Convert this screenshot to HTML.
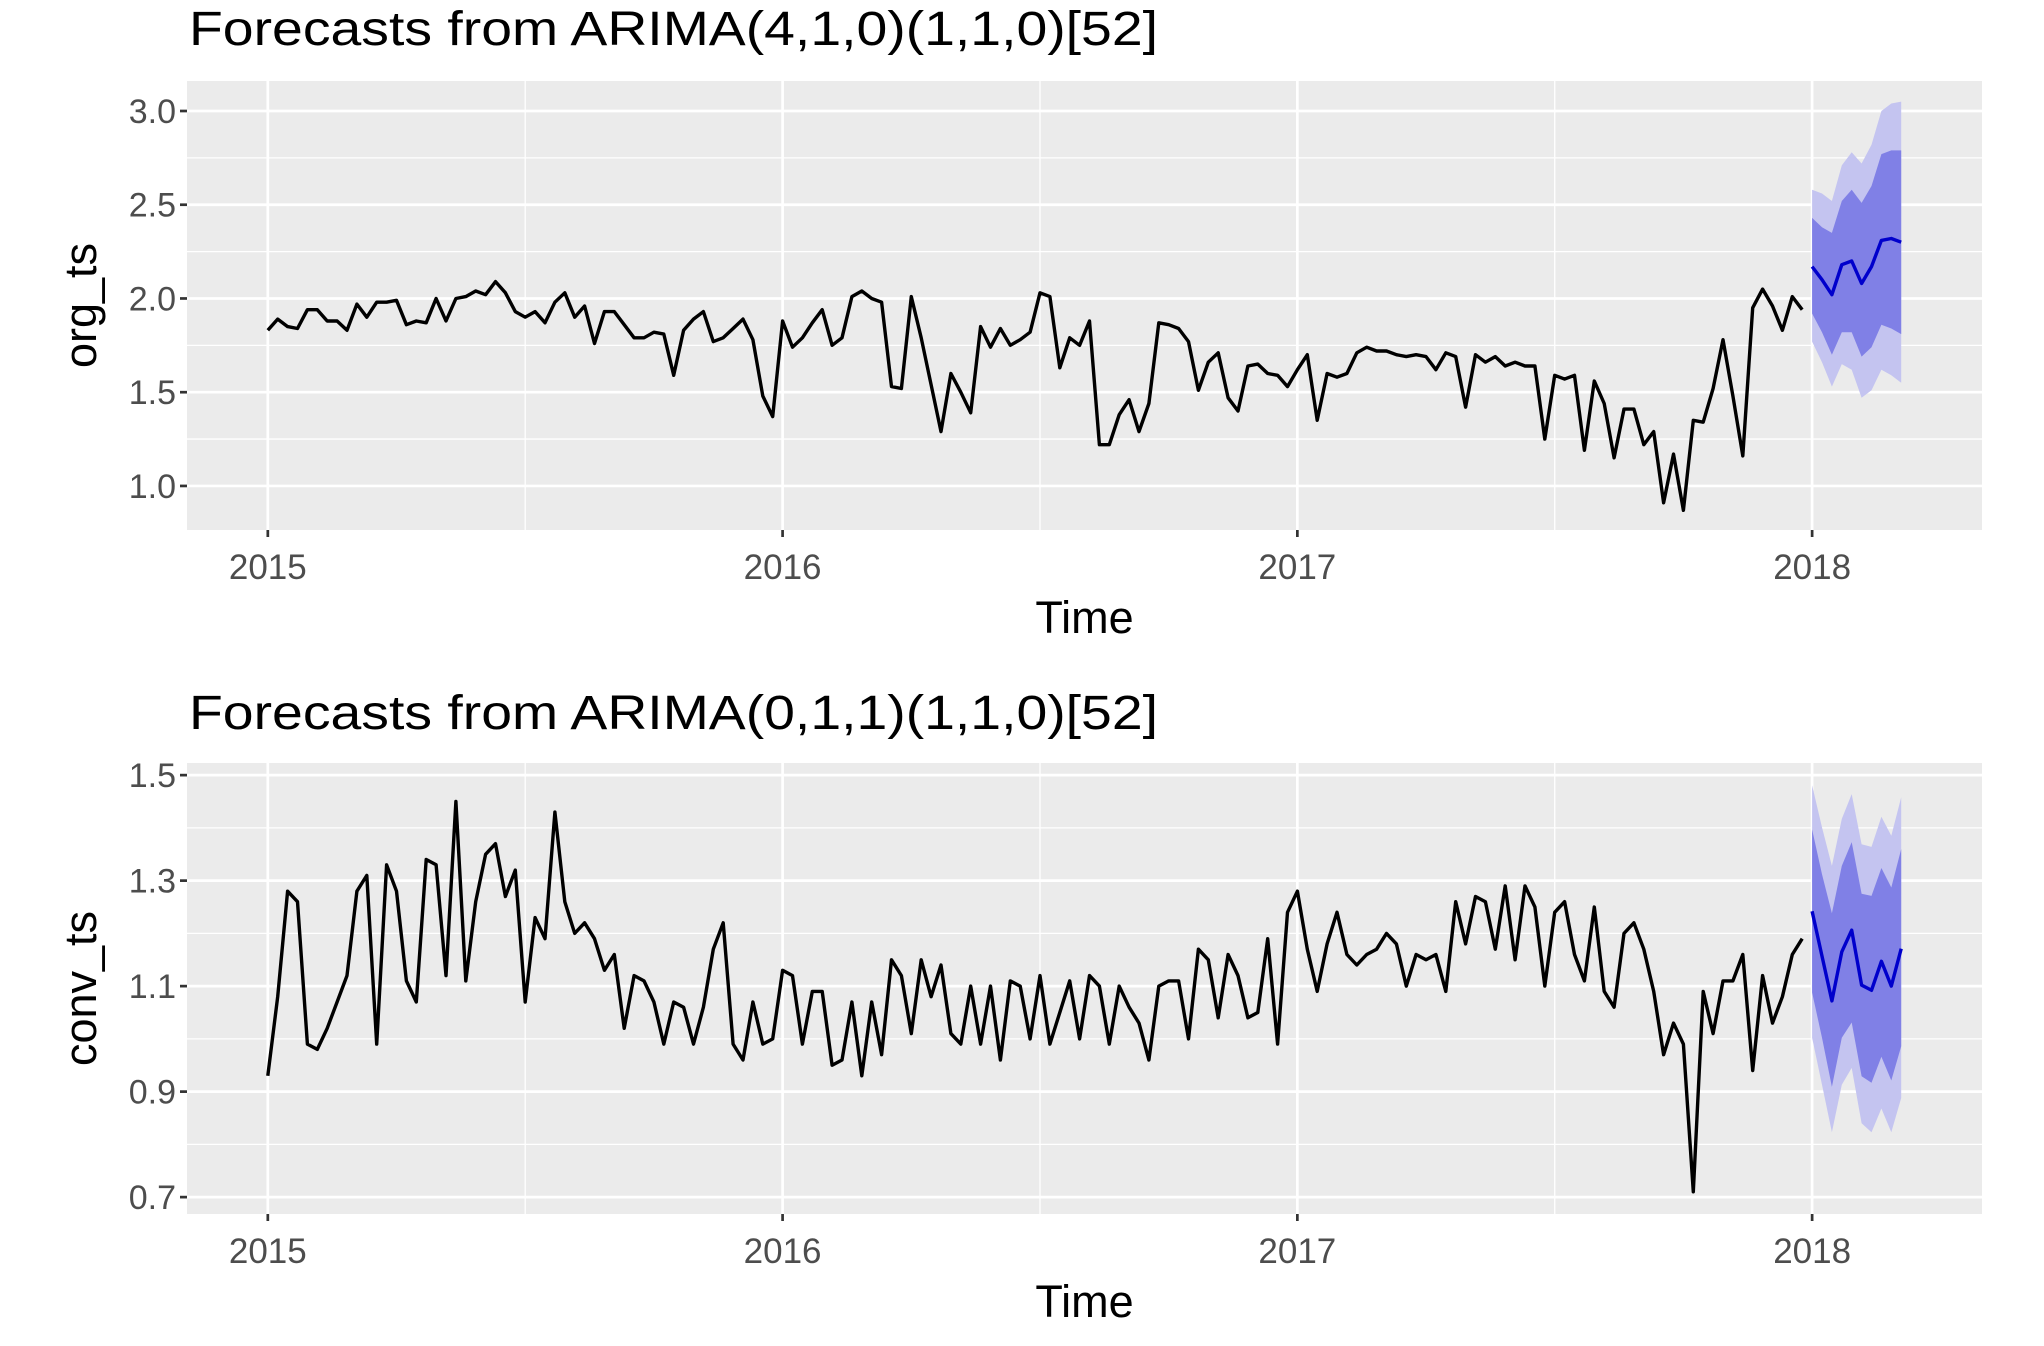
<!DOCTYPE html>
<html><head><meta charset="utf-8"><style>
html,body{margin:0;padding:0;background:#fff;}
svg{display:block;font-family:"Liberation Sans",Arial,sans-serif;}
</style></head><body>
<svg id="chart" width="2044" height="1346" viewBox="0 0 2044 1346" xmlns="http://www.w3.org/2000/svg"></svg>
<script>
// ---- Data: weekly series starting 2015 (52 per year) ----
const orgValues = [
1.83,1.89,1.85,1.84,1.94,1.94,1.88,1.88,1.83,1.97,1.90,1.98,1.98,1.99,1.86,1.88,1.87,2.00,1.88,2.00,2.01,2.04,2.02,2.09,2.03,1.93,1.90,1.93,1.87,1.98,2.03,1.90,1.96,1.76,1.93,1.93,1.86,1.79,1.79,1.82,1.81,1.59,1.83,1.89,1.93,1.77,1.79,1.84,1.89,1.78,1.48,1.37,
1.88,1.74,1.79,1.87,1.94,1.75,1.79,2.01,2.04,2.00,1.98,1.53,1.52,2.01,1.79,1.54,1.29,1.60,1.50,1.39,1.85,1.74,1.84,1.75,1.78,1.82,2.03,2.01,1.63,1.79,1.75,1.88,1.22,1.22,1.38,1.46,1.29,1.44,1.87,1.86,1.84,1.77,1.51,1.66,1.71,1.47,1.40,1.64,1.65,1.60,1.59,1.53,
1.62,1.70,1.35,1.60,1.58,1.60,1.71,1.74,1.72,1.72,1.70,1.69,1.70,1.69,1.62,1.71,1.69,1.42,1.70,1.66,1.69,1.64,1.66,1.64,1.64,1.25,1.59,1.57,1.59,1.19,1.56,1.44,1.15,1.41,1.41,1.22,1.29,0.91,1.17,0.87,1.35,1.34,1.52,1.78,1.48,1.16,1.95,2.05,1.96,1.83,2.01,1.94];
const orgMean = [2.17,2.10,2.02,2.18,2.20,2.08,2.17,2.31,2.32,2.30];
const orgHi80 = [2.43,2.38,2.35,2.52,2.58,2.51,2.60,2.77,2.79,2.79];
const orgLo80 = [1.92,1.82,1.70,1.82,1.82,1.69,1.74,1.86,1.84,1.81];
const orgHi95 = [2.58,2.56,2.52,2.71,2.78,2.72,2.82,3.00,3.04,3.05];
const orgLo95 = [1.77,1.66,1.53,1.65,1.62,1.47,1.51,1.62,1.59,1.55];
const orgTicks = [1.0,1.5,2.0,2.5,3.0];
const orgTickLabels = ["1.0","1.5","2.0","2.5","3.0"];

const convValues = [
0.93,1.08,1.28,1.26,0.99,0.98,1.02,1.07,1.12,1.28,1.31,0.99,1.33,1.28,1.11,1.07,1.34,1.33,1.12,1.45,1.11,1.26,1.35,1.37,1.27,1.32,1.07,1.23,1.19,1.43,1.26,1.20,1.22,1.19,1.13,1.16,1.02,1.12,1.11,1.07,0.99,1.07,1.06,0.99,1.06,1.17,1.22,0.99,0.96,1.07,0.99,1.00,
1.13,1.12,0.99,1.09,1.09,0.95,0.96,1.07,0.93,1.07,0.97,1.15,1.12,1.01,1.15,1.08,1.14,1.01,0.99,1.10,0.99,1.10,0.96,1.11,1.10,1.00,1.12,0.99,1.05,1.11,1.00,1.12,1.10,0.99,1.10,1.06,1.03,0.96,1.10,1.11,1.11,1.00,1.17,1.15,1.04,1.16,1.12,1.04,1.05,1.19,0.99,1.24,
1.28,1.17,1.09,1.18,1.24,1.16,1.14,1.16,1.17,1.20,1.18,1.10,1.16,1.15,1.16,1.09,1.26,1.18,1.27,1.26,1.17,1.29,1.15,1.29,1.25,1.10,1.24,1.26,1.16,1.11,1.25,1.09,1.06,1.20,1.22,1.17,1.09,0.97,1.03,0.99,0.71,1.09,1.01,1.11,1.11,1.16,0.94,1.12,1.03,1.08,1.16,1.19];
const convMean = [1.242,1.157,1.072,1.165,1.206,1.102,1.092,1.147,1.100,1.171];
const convHi80 = [1.397,1.312,1.238,1.328,1.373,1.275,1.271,1.324,1.287,1.360];
const convLo80 = [1.088,1.002,0.909,1.002,1.031,0.929,0.917,0.966,0.921,0.986];
const convHi95 = [1.481,1.401,1.328,1.417,1.464,1.369,1.364,1.421,1.385,1.458];
const convLo95 = [1.002,0.913,0.823,0.913,0.945,0.840,0.823,0.868,0.823,0.888];
const convTicks = [0.7,0.9,1.1,1.3,1.5];
const convTickLabels = ["0.7","0.9","1.1","1.3","1.5"];

const yearTicks = [2015,2016,2017,2018];
const yearLabels = ["2015","2016","2017","2018"];

const NS = "http://www.w3.org/2000/svg";
const svg = document.getElementById('chart');
function mk(tag, attrs, parent){
  const e = document.createElementNS(NS, tag);
  for (const k in attrs) e.setAttribute(k, attrs[k]);
  (parent||svg).appendChild(e);
  return e;
}

function drawPanel(cfg){
  const L=187, R=1982, T=cfg.top, B=cfg.bottom;
  const x0=2014.843, x1=2018.33;
  const xs = t => L + (t - x0)/(x1 - x0)*(R - L);
  const ys = v => T + (cfg.ymax - v)/(cfg.ymax - cfg.ymin)*(B - T);
  const g = mk('g', {});
  
  

  const bg = mk('rect', {x:L, y:T, width:R-L, height:B-T, fill:'#EBEBEB'}, g);
  
  

  // minor gridlines
  for (let i=0;i<cfg.ticks.length-1;i++){
    const m = (cfg.ticks[i]+cfg.ticks[i+1])/2;
    const ln = mk('line', {x1:L, x2:R, y1:ys(m), y2:ys(m), stroke:'#fff', 'stroke-width':1.3}, g);
    
    
  }
  for (let i=0;i<yearTicks.length;i++){
    const m = yearTicks[i]+0.5;
    if (xs(m) < R) {
      const ln = mk('line', {x1:xs(m), x2:xs(m), y1:T, y2:B, stroke:'#fff', 'stroke-width':1.3}, g);
      
      
    }
  }
  // major gridlines + ticks + labels
  cfg.ticks.forEach((v,i)=>{
    const y = ys(v);
    const ln = mk('line', {x1:L, x2:R, y1:y, y2:y, stroke:'#fff', 'stroke-width':2.7}, g);
    
    
    const tk = mk('line', {x1:L-7, x2:L, y1:y, y2:y, stroke:'#333', 'stroke-width':2.7}, g);
    
    
    const tx = mk('text', {x:L-11, y:y+12, 'text-anchor':'end', 'font-size':34, fill:'#4D4D4D'}, g);
    tx.textContent = cfg.tickLabels[i];
    
    
  });
  yearTicks.forEach((t,i)=>{
    const x = xs(t);
    const ln = mk('line', {x1:x, x2:x, y1:T, y2:B, stroke:'#fff', 'stroke-width':2.7}, g);
    
    
    const tk = mk('line', {x1:x, x2:x, y1:B, y2:B+7, stroke:'#333', 'stroke-width':2.7}, g);
    
    
    const tx = mk('text', {x:x, y:B+49, 'text-anchor':'middle', 'font-size':35, fill:'#4D4D4D'}, g);
    tx.textContent = yearLabels[i];
    
    
  });

  // forecast bands
  const ft = i => 2018 + i/52;
  function band(hi, lo, fill, nm){
    let d = '';
    hi.forEach((v,i)=>{ d += (i?'L':'M') + xs(ft(i)).toFixed(1) + ',' + ys(v).toFixed(1); });
    for (let i=lo.length-1;i>=0;i--) d += 'L' + xs(ft(i)).toFixed(1) + ',' + ys(lo[i]).toFixed(1);
    const p = mk('path', {d:d+'Z', fill:fill}, g);
    
    
  }
  band(cfg.hi95, cfg.lo95, '#C4C4F0', cfg.name + '-95-interval');
  band(cfg.hi80, cfg.lo80, '#8080E6', cfg.name + '-80-interval');

  // observed series
  let d = '';
  cfg.values.forEach((v,i)=>{ d += (i?'L':'M') + xs(2015 + i/52).toFixed(1) + ',' + ys(v).toFixed(1); });
  const line = mk('path', {d:d, fill:'none', stroke:'#000', 'stroke-width':3.4, 'stroke-linejoin':'round'}, g);
  
  

  let dm = '';
  cfg.mean.forEach((v,i)=>{ dm += (i?'L':'M') + xs(ft(i)).toFixed(1) + ',' + ys(v).toFixed(1); });
  const fl = mk('path', {d:dm, fill:'none', stroke:'#0000CC', 'stroke-width':3.4, 'stroke-linejoin':'round'}, g);
  
  

  // titles
  const tt = mk('text', {x:189, y:cfg.titleY, 'font-size':48, fill:'#000', textLength:969, lengthAdjust:'spacingAndGlyphs'}, g);
  tt.textContent = cfg.title;
  
  
  const xt = mk('text', {x:(L+R)/2, y:B+103, 'text-anchor':'middle', 'font-size':45, fill:'#000'}, g);
  xt.textContent = 'Time';
  
  
  const cy = (T+B)/2;
  const yt = mk('text', {x:96, y:cy, 'text-anchor':'middle', 'font-size':45, fill:'#000', transform:'rotate(-90 96 '+cy+')'}, g);
  yt.textContent = cfg.ylabel;
  
  
}

drawPanel({name:'org', top:81, bottom:530, ymin:0.765, ymax:3.16,
  ticks:orgTicks, tickLabels:orgTickLabels, values:orgValues, mean:orgMean,
  hi80:orgHi80, lo80:orgLo80, hi95:orgHi95, lo95:orgLo95,
  title:'Forecasts from ARIMA(4,1,0)(1,1,0)[52]', titleY:45, ylabel:'org_ts'});
drawPanel({name:'conv', top:763, bottom:1214, ymin:0.668, ymax:1.523,
  ticks:convTicks, tickLabels:convTickLabels, values:convValues, mean:convMean,
  hi80:convHi80, lo80:convLo80, hi95:convHi95, lo95:convLo95,
  title:'Forecasts from ARIMA(0,1,1)(1,1,0)[52]', titleY:729, ylabel:'conv_ts'});
</script>
</body></html>
